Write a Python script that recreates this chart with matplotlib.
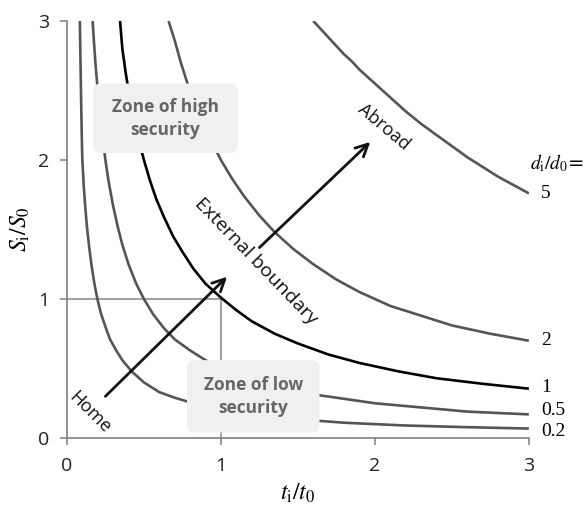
import matplotlib
matplotlib.use("Agg")
import matplotlib.pyplot as plt
from matplotlib.patches import FancyBboxPatch

# curves S_i/S_0 vs t_i/t_0 for several d_i/d_0
t_02 = [0.084, 0.088, 0.092, 0.096, 0.10, 0.11, 0.12, 0.13, 0.145, 0.16, 0.18, 0.20, 0.22, 0.25,
        0.28, 0.32, 0.36, 0.42, 0.50, 0.60, 0.70, 0.85, 1.0, 1.2, 1.5, 1.8, 2.2, 2.6, 3.0]
s_02 = [3.0, 2.72, 2.45, 2.2, 2.0, 1.8, 1.65, 1.52, 1.37, 1.24, 1.1, 0.99, 0.9, 0.8,
        0.71, 0.63, 0.56, 0.48, 0.4, 0.33, 0.29, 0.24, 0.2, 0.17, 0.135, 0.11, 0.09, 0.078, 0.068]

t_05 = [0.167, 0.175, 0.185, 0.20, 0.215, 0.23, 0.25, 0.27, 0.30, 0.33, 0.36, 0.40, 0.45, 0.50,
        0.56, 0.63, 0.70, 0.80, 0.90, 1.0, 1.15, 1.3, 1.5, 1.75, 2.0, 2.3, 2.6, 3.0]
s_05 = [3.0, 2.86, 2.7, 2.5, 2.33, 2.17, 2.0, 1.85, 1.67, 1.52, 1.39, 1.25, 1.11, 1.0,
        0.89, 0.79, 0.71, 0.63, 0.56, 0.5, 0.43, 0.38, 0.33, 0.29, 0.25, 0.22, 0.19, 0.17]

t_1 = [0.345, 0.36, 0.38, 0.40, 0.43, 0.46, 0.50, 0.54, 0.58, 0.63, 0.69, 0.75, 0.82, 0.90, 1.0,
       1.1, 1.2, 1.35, 1.5, 1.7, 1.9, 2.15, 2.4, 2.7, 3.0]
s_1 = [3.0, 2.8, 2.64, 2.5, 2.33, 2.17, 2.0, 1.85, 1.72, 1.59, 1.45, 1.34, 1.22, 1.11, 1.01,
       0.92, 0.84, 0.75, 0.68, 0.6, 0.54, 0.48, 0.43, 0.39, 0.355]

t_2 = [0.66, 0.70, 0.74, 0.78, 0.83, 0.88, 0.94, 1.0, 1.07, 1.15, 1.25, 1.35, 1.47, 1.6, 1.75,
       1.9, 2.1, 2.3, 2.5, 2.75, 3.0]
s_2 = [3.0, 2.86, 2.7, 2.56, 2.41, 2.27, 2.13, 2.0, 1.87, 1.74, 1.6, 1.48, 1.36, 1.25, 1.14,
       1.05, 0.95, 0.88, 0.81, 0.75, 0.70]

t_5 = [1.6, 1.65, 1.7, 1.75, 1.8, 1.85, 1.9, 2.0, 2.1, 2.2, 2.3, 2.4, 2.5, 2.6, 2.7, 2.8, 2.9, 3.0]
s_5 = [3.0, 2.94, 2.88, 2.82, 2.76, 2.71, 2.65, 2.55, 2.45, 2.35, 2.26, 2.18, 2.10, 2.02, 1.95,
       1.88, 1.82, 1.76]

curve_labels = ["0.2", "0.5", "1", "2", "5"]
ticks = [0, 1, 2, 3]

plt.rcParams['mathtext.fontset'] = 'stix'

fig = plt.figure(figsize=(5.87, 5.12), dpi=100)
ax = fig.add_axes([0.114, 0.1445, 0.787, 0.8145])

gray = '#555555'
curves = [(t_02, s_02), (t_05, s_05), (t_1, s_1), (t_2, s_2), (t_5, s_5)]
label_shift = {"0.2": -0.02, "0.5": 0.025, "1": 0.01}
for (t, s), lab in zip(curves, curve_labels):
    col = 'black' if lab == "1" else gray
    ax.plot(t, s, color=col, lw=1.9, solid_capstyle='butt', solid_joinstyle='round', zorder=2)
    ax.text(3.08, s[-1] + label_shift.get(lab, 0), lab, family='Liberation Serif',
            fontsize=14, va='center', ha='left', clip_on=False)

ax.text(3.01, 1.98, r'$d_{\rm i}/d_0$=', fontsize=14, va='center', ha='left',
        clip_on=False)

# guide lines to (1, 1)
ax.plot([0, 1], [1, 1], color='#999999', lw=1.3, zorder=1)
ax.plot([1, 1], [0, 1], color='#999999', lw=1.3, zorder=1)

# zone boxes
for x0, y0, w, h, txt in [(0.17, 2.05, 0.94, 0.50, "Zone of high\nsecurity"),
                           (0.78, 0.04, 0.86, 0.52, "Zone of low\nsecurity")]:
    box = FancyBboxPatch((x0, y0), w, h, boxstyle="round,pad=0,rounding_size=0.05",
                         mutation_aspect=1.1, fc='#f0f0f0', ec='none', zorder=3)
    ax.add_patch(box)
    ax.text(x0 + w / 2, y0 + h / 2, txt, ha='center', va='center', color='#666666',
            fontsize=12.5, fontweight='bold', family='Open Sans', linespacing=1.35, zorder=4)

# arrows
arrow = dict(arrowstyle='->', color='#111111', lw=2, mutation_scale=22, shrinkA=0, shrinkB=0)
ax.annotate('', xy=(1.04, 1.16), xytext=(0.25, 0.30), arrowprops=arrow, zorder=5)
ax.annotate('', xy=(1.97, 2.13), xytext=(1.25, 1.37), arrowprops=arrow, zorder=5)

ax.text(0.15, 0.18, "Home", rotation=-45, ha='center', va='center', fontsize=13,
        family='Open Sans', color='#111111')
ax.text(1.23, 1.27, "External boundary", rotation=-46, ha='center', va='center',
        fontsize=14, family='Open Sans', color='#111111')
ax.text(2.06, 2.24, "Abroad", rotation=-40, ha='center', va='center', fontsize=13,
        family='Open Sans', color='#111111')

ax.set_xlim(0, 3)
ax.set_ylim(0, 3)
ax.set_xticks(ticks)
ax.set_yticks(ticks)
ax.tick_params(direction='out', length=5, width=1.2, color='#888888', labelsize=14,
               labelcolor='#222222')
for lab in ax.get_xticklabels() + ax.get_yticklabels():
    lab.set_family('Open Sans')
ax.tick_params(axis='x', pad=9)
ax.tick_params(axis='y', pad=8)
for side in ['top', 'right']:
    ax.spines[side].set_visible(False)
for side in ['left', 'bottom']:
    ax.spines[side].set_color('#888888')
    ax.spines[side].set_linewidth(1.3)

ax.set_xlabel(r'$t_{\rm i}/t_0$', fontsize=17, labelpad=4)
ax.set_ylabel(r'$S_{\rm i}/S_0$', fontsize=17, labelpad=4)

fig.savefig('out.png', dpi=100)
